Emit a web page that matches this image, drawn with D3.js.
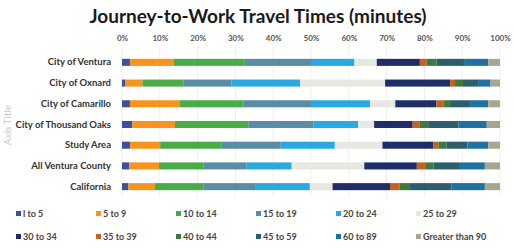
<!DOCTYPE html>
<html>
<head>
<meta charset="utf-8">
<script src="https://cdn.jsdelivr.net/npm/d3@7"></script>
<style>
  body { margin: 0; background: #fff; }
  svg { display: block; font-family: Lato, "Open Sans", sans-serif; }
</style>
</head>
<body>
<div class="chart"></div>
<script>
// categories (top to bottom) and travel time groups
var places = ["City of Ventura", "City of Oxnard", "City of Camarillo", "City of Thousand Oaks",
              "Study Area", "All Ventura County", "California"];
var groups = ["l to 5", "5 to 9", "10 to 14", "15 to 19", "20 to 24", "25 to 29",
              "30 to 34", "35 to 39", "40 to 44", "45 to 59", "60 to 89", "Greater than 90"];
var colors = ["#3d4f9f", "#f7941d", "#4aac47", "#5a8da5", "#2aa9e0", "#e7e8e2",
              "#1f2e68", "#c5621f", "#3b7b3f", "#2d5e6c", "#1f71a0", "#a9a58f"];

// percent share of each group, one array per place
var ventura    = [2.1, 11.5, 18.9, 17.5, 11.5, 5.9, 11.4, 1.8, 2.6, 7.5, 6.2, 3.1];
var oxnard     = [0.8, 4.6, 10.8, 12.8, 18.1, 22.5, 17.2, 1.3, 2.1, 4.0, 3.3, 2.5];
var camarillo  = [2.1, 13.2, 16.8, 17.9, 15.6, 6.7, 10.9, 1.8, 1.8, 5.0, 5.1, 3.1];
var thousand   = [2.7, 11.3, 19.4, 17.2, 11.9, 4.2, 10.2, 1.9, 2.2, 8.0, 7.5, 3.5];
var studyArea  = [2.1, 8.0, 16.3, 15.6, 14.3, 12.6, 13.5, 1.3, 2.2, 5.5, 5.5, 3.1];
var county     = [1.9, 7.9, 11.7, 11.5, 11.9, 19.2, 13.9, 2.2, 2.2, 7.0, 6.6, 4.0];
var california = [1.7, 7.0, 12.8, 13.7, 14.5, 6.0, 15.2, 2.6, 2.7, 11.0, 8.8, 4.0];
var ticks = [0, 10, 20, 30, 40, 50, 60, 70, 80, 90, 100];

var rows = [ventura, oxnard, camarillo, thousand, studyArea, county, california];

// build table for d3.stack
var table = places.map(function(p, i) {
    var o = {place: p};
    groups.forEach(function(g, j) { o[g] = rows[i][j]; });
    return o;
});

var svg = d3.select(".chart").append("svg").attr("width", 513).attr("height", 248);

var x = d3.scaleLinear().domain([0, 100]).range([122, 500]);
var y = d3.scaleBand().domain(places).range([52, 197]).paddingInner(0.66).paddingOuter(0.33);
var color = d3.scaleOrdinal().domain(groups).range(colors);

// title
svg.append("text")
    .attr("x", 258).attr("y", 23)
    .attr("text-anchor", "middle")
    .style("font-size", "19px").style("font-weight", "bold").style("fill", "#1a1a1a")
    .text("Journey-to-Work Travel Times (minutes)");

// gridlines
svg.append("g").selectAll("line")
    .data(ticks)
    .enter().append("line")
      .attr("x1", d => x(d)).attr("x2", d => x(d))
      .attr("y1", 46).attr("y2", 197)
      .attr("stroke", "#efefef").attr("stroke-width", 1);

// top axis
var ax = svg.append("g")
    .attr("transform", "translate(0,44)")
    .call(d3.axisTop(x).tickValues(ticks).tickFormat(d => d + "%").tickSize(0).tickPadding(3));
ax.select(".domain").remove();
ax.selectAll("text").style("font-size", "8px").style("font-weight", "bold").style("fill", "#555")
    .style("font-family", "Lato, sans-serif");

// left axis
var ay = svg.append("g")
    .attr("transform", "translate(114,0)")
    .call(d3.axisLeft(y).tickSize(0).tickPadding(3));
ay.select(".domain").remove();
ay.selectAll("text").style("font-size", "9.5px").style("font-weight", "bold").style("fill", "#333")
    .style("font-family", "Lato, sans-serif");

// axis title
svg.append("text")
    .attr("transform", "translate(11,125) rotate(-90)")
    .attr("text-anchor", "middle")
    .style("font-size", "10px").style("fill", "#c8c8c8")
    .text("Axis Title");

// stacked bars
var series = d3.stack().keys(groups)(table);
svg.append("g").selectAll("g")
    .data(series)
    .enter().append("g")
      .attr("fill", d => color(d.key))
    .selectAll("rect")
    .data(d => d)
    .enter().append("rect")
      .attr("x", d => x(d[0]))
      .attr("y", d => y(d.data.place))
      .attr("width", d => x(d[1]) - x(d[0]))
      .attr("height", y.bandwidth());

// legend
var legend = svg.append("g").selectAll("g")
    .data(groups)
    .enter().append("g")
      .attr("transform", (d, i) => "translate(" + (16 + (i % 6) * 80) + "," + (214 + Math.floor(i / 6) * 23) + ")");
legend.append("rect")
    .attr("x", 0).attr("y", -3).attr("width", 5).attr("height", 5)
    .attr("fill", d => color(d));
legend.append("text")
    .attr("x", 7).attr("y", 0).attr("dy", "0.35em")
    .style("font-size", "9px").style("font-weight", "bold").style("fill", "#444")
    .text(d => d);
</script>
</body>
</html>
